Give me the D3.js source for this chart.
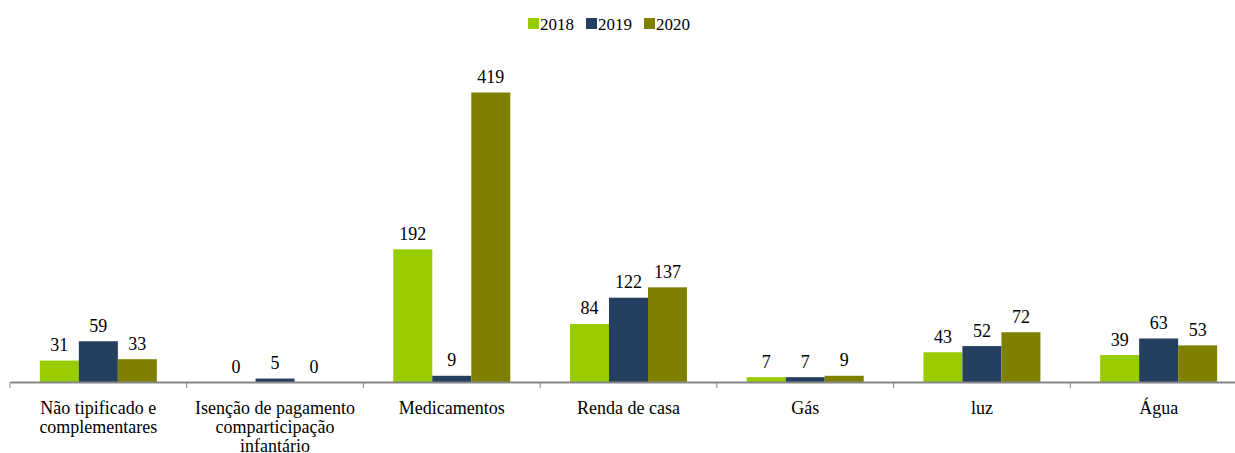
<!DOCTYPE html>
<html>
<head>
<meta charset="utf-8">
<script src="https://cdn.jsdelivr.net/npm/d3@7"></script>
</head>
<body style="margin:0">
<svg id="chart" width="1235" height="453" style="font-family:'Liberation Serif'"></svg>
<script>
// data
const categories = ["Não tipificado e|complementares", "Isenção de pagamento|comparticipação|infantário",
    "Medicamentos", "Renda de casa", "Gás", "luz", "Água"];
const years = ["2018", "2019", "2020"];
const values2018 = [31, 0, 192, 84, 7, 43, 39];
const values2019 = [59, 5, 9, 122, 7, 52, 63];
const values2020 = [33, 0, 419, 137, 9, 72, 53];
const colors = ["#99cc00", "#243f60", "#808000"];

const axisY = 382;
const fontName = "'Times New Roman'";

let svg = d3.select("#chart");

let series = [values2018, values2019, values2020];

// scales
let scaleX = d3.scaleBand().domain(categories).range([10, 1247]).padding(0);
let scaleInner = d3.scaleBand().domain(years)
    .range([0, 117]);
let offset = (scaleX.bandwidth() - 117) / 2;
let scaleY = d3.scaleLinear().domain([0, 419]).range([axisY, 92.5]);
let colorBar = d3.scaleOrdinal().domain(years).range(colors);

// bars + value labels
let groups = svg.append("g")
    .selectAll("g")
    .data(categories)
    .enter()
    .append("g")
    .attr("transform", d => "translate(" + (scaleX(d) + offset) + ",0)");

groups.each(function (cat, ci) {
    let g = d3.select(this);
    years.forEach(function (yr, si) {
        let v = series[si][ci];
        g.append("rect")
            .attr("x", scaleInner(yr))
            .attr("y", scaleY(v))
            .attr("width", scaleInner.bandwidth())
            .attr("height", axisY - scaleY(v))
            .attr("fill", colorBar(yr));
        g.append("text")
            .attr("x", scaleInner(yr) + scaleInner.bandwidth() / 2)
            .attr("y", scaleY(v) - 9.5)
            .attr("text-anchor", "middle")
            .style("font-family", fontName)
            .style("font-size", "18px")
            .text(v);
    });
});

// x axis
let axis = svg.append("g")
    .attr("transform", "translate(0," + axisY + ")")
    .call(d3.axisBottom(scaleX).tickSize(0).tickFormat(""));
axis.select(".domain").attr("stroke", "#868686").attr("stroke-width", 2);

// tick marks on category boundaries
svg.append("g")
    .selectAll("line")
    .data(categories)
    .enter()
    .append("line")
    .attr("x1", d => scaleX(d))
    .attr("x2", d => scaleX(d))
    .attr("y1", axisY)
    .attr("y2", axisY + 6)
    .attr("stroke", "#868686")
    .attr("stroke-width", 1);

// category labels (the last line of the second label runs into the bottom edge, as in the source)
svg.append("g")
    .selectAll("text")
    .data(categories)
    .enter()
    .append("text")
    .attr("text-anchor", "middle")
    .style("font-family", fontName)
    .style("font-size", "18px")
    .each(function (d) {
        let t = d3.select(this);
        let cx = scaleX(d) + scaleX.bandwidth() / 2;
        d.split("|").forEach(function (line, i) {
            t.append("tspan")
                .attr("x", cx)
                .attr("y", 414 + i * 19)
                .text(line);
        });
    });

// legend
let legendX = [528, 586, 644];
let legend = svg.append("g")
    .selectAll("g")
    .data(years)
    .enter()
    .append("g")
    .attr("transform", (d, i) => "translate(" + legendX[i] + ",18)");
legend.append("rect")
    .attr("width", 11)
    .attr("height", 11)
    .attr("fill", d => colorBar(d));
legend.append("text")
    .attr("x", 12)
    .attr("y", 12)
    .style("font-family", fontName)
    .style("font-size", "17px")
    .text(d => d);
</script>
</body>
</html>
